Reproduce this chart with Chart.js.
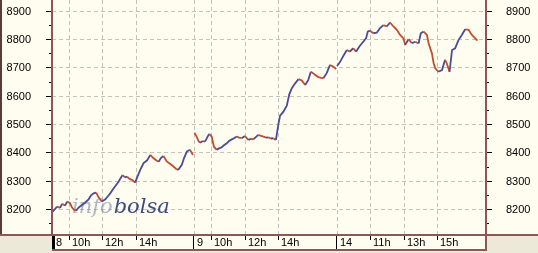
<!DOCTYPE html>
<html>
<head>
<meta charset="utf-8">
<script src="https://cdn.jsdelivr.net/npm/chart.js@4"></script>
<style>
  html, body { margin: 0; padding: 0; background: #ece9d8; }
  #wrap { width: 538px; height: 253px; }
</style>
</head>
<body>
<div id="wrap"><canvas id="chart" width="538" height="253"></canvas></div>
<script>
// each session: minutes after the 9:00 open and the index level
const day1Minutes = [0, 11, 18, 29, 36, 47, 54, 64, 72, 79, 86, 97, 107, 118, 131, 140, 149, 158, 167, 179, 191, 201, 209, 221, 229, 239, 245, 253, 261, 269, 278, 287, 298, 304, 316, 328, 340, 352, 364, 373, 382, 390, 399, 412, 424, 435, 444, 452, 465, 473, 483, 494, 505]
const day1Values = [8188, 8200, 8208, 8204, 8218, 8212, 8226, 8221, 8205, 8197, 8194, 8206, 8214, 8222, 8234, 8248, 8255, 8258, 8241, 8226, 8234, 8246, 8256, 8273, 8284, 8297, 8308, 8320, 8312, 8314, 8306, 8303, 8293, 8309, 8338, 8362, 8371, 8391, 8379, 8372, 8367, 8380, 8387, 8367, 8359, 8350, 8342, 8338, 8356, 8380, 8403, 8409, 8391]

const day2Minutes = [0, 8, 15, 20, 31, 38, 47, 53, 62, 70, 80, 88, 98, 106, 116, 124, 134, 142, 152, 160, 169, 181, 193, 203, 211, 221, 229, 239, 247, 256, 265, 274, 283, 292, 301, 307, 319, 331, 340, 349, 361, 373, 385, 397, 408, 417, 425, 432, 444, 454, 462, 474, 486, 498, 508]
const day2Values = [8470, 8456, 8440, 8434, 8440, 8438, 8455, 8465, 8456, 8420, 8409, 8414, 8418, 8425, 8432, 8440, 8446, 8450, 8456, 8452, 8450, 8458, 8444, 8448, 8446, 8455, 8462, 8458, 8456, 8452, 8453, 8449, 8450, 8444, 8500, 8530, 8544, 8565, 8605, 8627, 8644, 8659, 8654, 8638, 8656, 8685, 8680, 8674, 8666, 8663, 8662, 8680, 8709, 8703, 8694]

const day3Minutes = [1, 12, 23, 36, 47, 59, 69, 81, 95, 105, 111, 119, 131, 143, 155, 167, 179, 191, 203, 215, 227, 239, 245, 257, 269, 281, 293, 301, 311, 323, 329, 341, 347, 353, 364, 377, 388, 394, 404, 413, 424, 436, 448, 460, 472, 484, 496, 504]
const day3Values = [8705, 8720, 8740, 8762, 8756, 8768, 8756, 8774, 8791, 8803, 8827, 8830, 8821, 8823, 8839, 8850, 8845, 8859, 8845, 8833, 8815, 8803, 8780, 8800, 8786, 8791, 8785, 8821, 8827, 8815, 8786, 8750, 8715, 8697, 8685, 8691, 8727, 8715, 8685, 8762, 8768, 8797, 8815, 8835, 8833, 8815, 8803, 8795]

const dayLabels = ["8", "9", "14"]
const hourTicks = [[10, 12, 14], [10, 12, 14], [11, 13, 15]]
const yTicks = [8200, 8300, 8400, 8500, 8600, 8700, 8800, 8900]

const sessionHours = 8.5
const openHour = 9

const CREAM = "#fffcf0"
const GRAY = "#ece9d8"
const EDGE = "#8a5858"
const UP = "#4a4c94"
const DOWN = "#c04e2c"
const FONT = "11px 'Liberation Sans', Arial, sans-serif"

const sessions = [
  [day1Minutes, day1Values],
  [day2Minutes, day2Values],
  [day3Minutes, day3Values]
]

const datasets = sessions.map(([mins, vals], d) => ({
  data: mins.map((m, i) => ({ x: d * sessionHours + m / 60, y: vals[i] })),
  borderWidth: 1.8,
  pointRadius: 0,
  tension: 0,
  segment: { borderColor: c => (c.p1.parsed.y >= c.p0.parsed.y ? UP : DOWN) }
}))

// x positions of day starts and hour ticks on the continuous session axis
const dayStarts = dayLabels.map((_, d) => d * sessionHours)
const hourPos = hourTicks.map((hs, d) => hs.map(h => d * sessionHours + h - openHour))

const line = (ctx, x1, y1, x2, y2) => {
  ctx.beginPath(); ctx.moveTo(x1, y1); ctx.lineTo(x2, y2); ctx.stroke()
}

const frame = {
  id: "frame",
  beforeDraw(chart) {
    const { ctx, chartArea: a } = chart
    ctx.save()
    ctx.fillStyle = GRAY
    ctx.fillRect(0, 0, chart.width, chart.height)
    ctx.fillStyle = CREAM
    ctx.fillRect(0, 0, chart.width, a.bottom)
    ctx.fillRect(a.left, a.bottom, a.right - a.left, 16)
    ctx.restore()
  },
  beforeDatasetsDraw(chart) {
    const { ctx, chartArea: a, scales: { x, y } } = chart
    ctx.save()
    ctx.strokeStyle = "#c6c2b8"
    ctx.lineWidth = 1
    ctx.setLineDash([4, 3])
    yTicks.forEach(v => {
      const py = Math.round(y.getPixelForValue(v)) + 0.5
      line(ctx, a.left, py, a.right, py)
    })
    const xs = dayStarts.slice(1).concat(hourPos.flat())
    xs.forEach(v => {
      const px = Math.round(x.getPixelForValue(v)) + 0.5
      line(ctx, px, a.top - 1, px, a.bottom)
    })
    ctx.setLineDash([])

    // watermark
    ctx.font = "italic 21px 'DejaVu Serif', serif"
    ctx.textBaseline = "alphabetic"
    ctx.fillStyle = "rgba(120, 138, 178, 0.6)"
    ctx.fillText("info", 72, 213)
    const w = ctx.measureText("info").width
    ctx.fillStyle = "#3e4c86"
    ctx.fillText("bolsa", 72 + w + 1, 213)
    ctx.restore()
  },
  afterDatasetsDraw(chart) {
    const { ctx, chartArea: a, scales: { x, y } } = chart
    const W = chart.width
    ctx.save()

    // panel borders
    ctx.fillStyle = "#5e3a3a"
    ctx.fillRect(0, 0, 2, a.bottom + 1)
    ctx.fillStyle = EDGE
    ctx.fillRect(a.left - 1, 0, 2, a.bottom + 1)
    ctx.fillRect(a.right - 1, 0, 2, a.bottom + 1)
    ctx.fillRect(0, a.bottom - 1, W, 2)
    ctx.fillRect(a.left, a.bottom + 14, a.right - a.left, 2)
    ctx.fillRect(a.right - 1, a.bottom, 2, 16)

    // y ticks and labels on both sides
    ctx.strokeStyle = "#000"
    ctx.lineWidth = 1
    ctx.font = FONT
    ctx.fillStyle = "#000"
    ctx.textBaseline = "middle"
    yTicks.forEach(v => {
      const py = Math.round(y.getPixelForValue(v)) + 0.5
      line(ctx, a.left - 6, py, a.left - 1, py)
      line(ctx, a.right + 1, py, a.right + 6, py)
      ctx.textAlign = "right"
      ctx.fillText(String(v), 31, py)
      ctx.textAlign = "left"
      ctx.fillText(String(v), 506, py)
      const m = Math.round(y.getPixelForValue(v - 50)) + 0.5
      if (m < a.bottom - 2) {
        line(ctx, a.left - 3, m, a.left - 1, m)
        line(ctx, a.right + 1, m, a.right + 3, m)
      }
    })
    const top = Math.round(y.getPixelForValue(yTicks[yTicks.length - 1] - 50)) + 0.5
    void top

    // x strip: day separators, hour ticks, labels
    const sy = a.bottom + 1
    const ly = a.bottom + 8
    ctx.textAlign = "left"
    dayStarts.forEach((v, d) => {
      const px = Math.round(x.getPixelForValue(v))
      ctx.fillStyle = "#000"
      if (d === 0) ctx.fillRect(px, sy, 3, 13)
      else ctx.fillRect(px - 1, sy, 1, 13)
      ctx.fillText(dayLabels[d], px + (d === 0 ? 4 : 3), ly)
      hourPos[d].forEach((hp, i) => {
        const hx = Math.round(x.getPixelForValue(hp)) + 0.5
        line(ctx, hx, sy, hx, sy + 4)
        ctx.fillText(hourTicks[d][i] + "h", hx + 2.5, ly)
      })
    })
    ctx.restore()
  }
}

new Chart(document.getElementById("chart"), {
  type: "line",
  data: { datasets },
  options: {
    responsive: false,
    animation: false,
    parsing: true,
    layout: { padding: { left: 52, right: 52, top: 1, bottom: 18 } },
    plugins: { legend: { display: false }, tooltip: { enabled: false } },
    scales: {
      x: { type: "linear", min: 0, max: 25.91, display: false },
      y: { type: "linear", min: 8108, max: 8935, display: false }
    }
  },
  plugins: [frame]
})
</script>
</body>
</html>
